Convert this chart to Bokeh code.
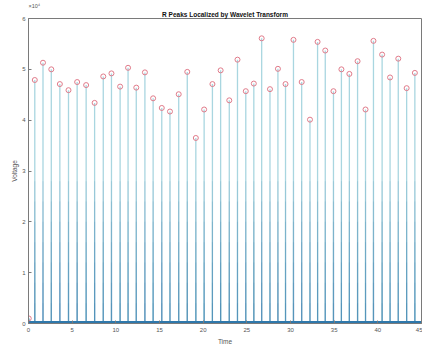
import numpy as np
from bokeh.plotting import figure
from bokeh.models import FixedTicker, Title, Range1d
from bokeh.embed import file_html
from bokeh.resources import INLINE

# R peak times (s) and amplitudes (x10^4)
peak_times = [0.03, 0.72, 1.66, 2.61, 3.59, 4.58, 5.57, 6.60, 7.57, 8.56, 9.50, 10.49,
              11.40, 12.34, 13.33, 14.27, 15.26, 16.20, 17.20, 18.18, 19.16, 20.11,
              21.06, 22.00, 22.99, 23.93, 24.88, 25.80, 26.70, 27.65, 28.56, 29.43,
              30.34, 31.28, 32.23, 33.10, 33.98, 34.92, 35.83, 36.74, 37.68, 38.59,
              39.50, 40.49, 41.40, 42.34, 43.30, 44.24]
peak_vals = [0.10, 4.79, 5.13, 5.00, 4.71, 4.59, 4.75, 4.69, 4.34, 4.86, 4.92, 4.66,
             5.03, 4.64, 4.94, 4.43, 4.24, 4.17, 4.51, 4.95, 3.65, 4.21, 4.71, 4.98,
             4.39, 5.19, 4.57, 4.72, 5.61, 4.61, 5.01, 4.71, 5.58, 4.75, 4.01, 5.54,
             5.37, 4.57, 5.00, 4.91, 5.16, 4.21, 5.56, 5.29, 4.84, 5.21, 4.63, 4.93]
baseline_level = 0.03
x_ticks = [0, 5, 10, 15, 20, 25, 30, 35, 40, 45]
y_ticks = [0, 1, 2, 3, 4, 5, 6]

FONT = "Liberation Sans"
AXIS_COL = "#7a7a7a"

p = figure(width=422, height=347, output_backend="svg", toolbar_location=None,
           x_range=Range1d(0, 45), y_range=Range1d(0, 6),
           min_border_left=28, min_border_right=1, min_border_top=15,
           min_border_bottom=23,
           title="×10⁴")
# exponent marker of the y axis (outermost, top-left)
p.title.text_font = FONT
p.title.text_font_size = "5.5px"
p.title.text_font_style = "normal"
p.title.text_color = "#555555"
p.title.align = "left"
p.title.standoff = 0

# main title, centred just above the frame
p.add_layout(Title(text="R Peaks Localized by Wavelet Transform", align="center",
                   text_font=FONT, text_font_size="6.5px", text_font_style="bold",
                   text_color="#111111", standoff=1), "above")

p.grid.visible = False
p.outline_line_color = AXIS_COL
p.outline_line_width = 1
p.background_fill_color = "white"

t = np.array(peak_times)
v = np.array(peak_vals)

# stems (signal spikes): light upper, gradually darker toward the base
p.segment(x0=t, y0=0, x1=t, y1=v, line_color="#a9d6e0", line_width=1.3)
for cut in [2.8, 2.4, 2.0, 1.6, 1.2, 0.8, 0.4]:
    p.segment(x0=t, y0=0, x1=t, y1=np.minimum(v, cut), line_color="#1f6fa8",
              line_alpha=0.12, line_width=1.2)
# baseline of the signal
p.line(x=[0, 45], y=[baseline_level, baseline_level], line_color="#2f78ab", line_width=1.8)

# detected peaks
p.scatter(x=t, y=v, marker="circle", size=5, fill_color=None,
          line_color="#e07b8a", line_width=1)

for ax in (p.xaxis[0], p.yaxis[0]):
    ax.axis_line_color = AXIS_COL
    ax.major_tick_line_color = AXIS_COL
    ax.major_tick_in = 3
    ax.major_tick_out = 0
    ax.minor_tick_line_color = None
    ax.major_label_text_font = FONT
    ax.major_label_text_font_size = "6px"
    ax.major_label_text_color = "#555555"
    ax.axis_label_text_font = FONT
    ax.axis_label_text_font_size = "6.5px"
    ax.axis_label_text_font_style = "normal"
    ax.axis_label_text_color = "#555555"

p.xaxis[0].major_label_standoff = 4
p.xaxis[0].axis_label_standoff = 3
p.yaxis[0].major_label_standoff = 3
p.yaxis[0].axis_label_standoff = 1

p.xaxis[0].ticker = FixedTicker(ticks=x_ticks)
p.yaxis[0].ticker = FixedTicker(ticks=y_ticks)
p.xaxis[0].axis_label = "Time"
p.yaxis[0].axis_label = "Voltage"

open("out.html", "w").write(file_html(p, INLINE))
